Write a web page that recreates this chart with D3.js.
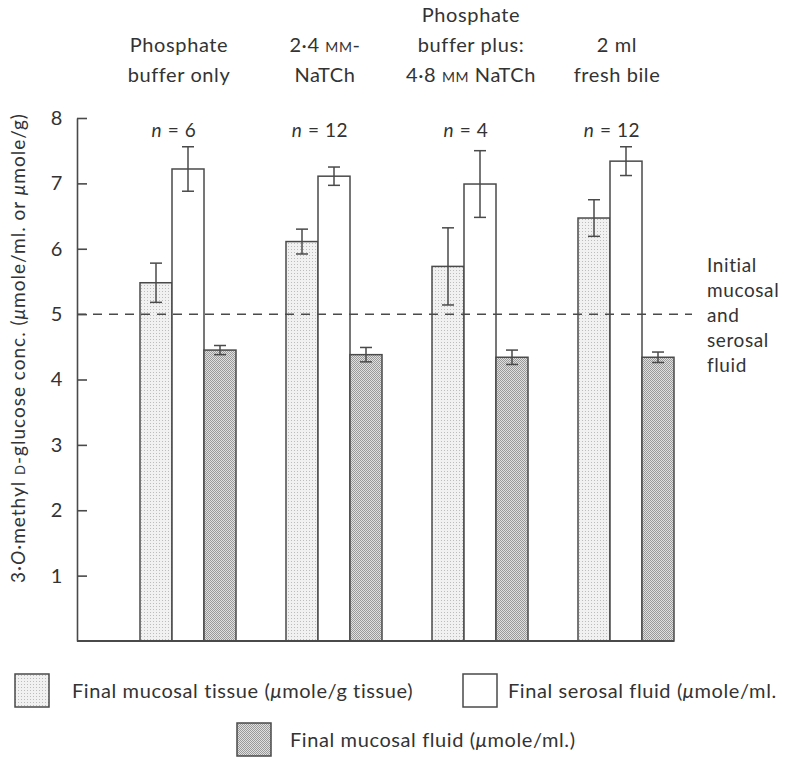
<!DOCTYPE html>
<html>
<head>
<meta charset="utf-8">
<script src="https://cdn.jsdelivr.net/npm/d3@7"></script>
<style>
  body { margin: 0; background: #fff; }
  text { font-family: Lato, "Open Sans", sans-serif; fill: #333; letter-spacing: 0.6px; }
</style>
</head>
<body>
<script>
// données
var groups = ["g1", "g2", "g3", "g4"];
var groupLabels = [
  ["Phosphate", "buffer only"],
  ["2·4 mM-", "NaTCh"],
  ["Phosphate", "buffer plus:", "4·8 mM NaTCh"],
  ["2 ml", "fresh bile"]
];
var nLabels = ["6", "12", "4", "12"];
var series = ["tissue", "serosal", "fluid"];
var tissueMean = [5.48, 6.11, 5.73, 6.47];
var tissueErr = [0.30, 0.19, 0.59, 0.28];
var serosalMean = [7.22, 7.11, 6.99, 7.34];
var serosalErr = [0.34, 0.14, 0.51, 0.22];
var fluidMean = [4.45, 4.38, 4.34, 4.34];
var fluidErr = [0.07, 0.11, 0.11, 0.08];
var initialLevel = 5;
var yTicks = [1, 2, 3, 4, 5, 6, 7, 8];

var width = 785, height = 759;

var svg = d3.select("body").append("svg")
    .attr("width", width)
    .attr("height", height);

// motifs pointillés
var defs = svg.append("defs");
var p1 = defs.append("pattern").attr("id", "lightDots")
    .attr("width", 3).attr("height", 3).attr("patternUnits", "userSpaceOnUse");
p1.append("rect").attr("width", 3).attr("height", 3).attr("fill", "#f1f1f1");
p1.append("rect").attr("width", 1).attr("height", 1).attr("fill", "#bcbcbc");
var p2 = defs.append("pattern").attr("id", "darkDots")
    .attr("width", 2).attr("height", 2).attr("patternUnits", "userSpaceOnUse");
p2.append("rect").attr("width", 2).attr("height", 2).attr("fill", "#e0e0e0");
p2.append("rect").attr("width", 1).attr("height", 1).attr("fill", "#9a9a9a");
p2.append("rect").attr("x", 1).attr("y", 1).attr("width", 1).attr("height", 1).attr("fill", "#9a9a9a");

var fills = { tissue: "url(#lightDots)", serosal: "#fff", fluid: "url(#darkDots)" };

var y = d3.scaleLinear().domain([0, 8]).range([641, 118]);
var xGroup = d3.scalePoint().domain(groups).range([188, 626]);
var xSeries = d3.scaleBand().domain(series).range([-48, 48]);

var rows = [];
groups.forEach(function(g, i) {
  rows.push({ g: g, s: "tissue", v: tissueMean[i], e: tissueErr[i] });
  rows.push({ g: g, s: "serosal", v: serosalMean[i], e: serosalErr[i] });
  rows.push({ g: g, s: "fluid", v: fluidMean[i], e: fluidErr[i] });
});

var axisX = 77;
var lineColor = "#4a4a4a";

// axe y
var yAxis = d3.axisLeft(y)
    .tickValues(yTicks)
    .tickSizeInner(-10)
    .tickSizeOuter(0)
    .tickPadding(14)
    .tickFormat(d3.format("d"));

var yAxisG = svg.append("g")
    .attr("transform", "translate(" + axisX + ",0)")
    .call(yAxis);
yAxisG.selectAll("path, line").attr("stroke", lineColor).attr("stroke-width", 1.6);
yAxisG.selectAll("text")
    .style("font-family", "Lato, sans-serif")
    .style("font-size", "20px")
    .attr("fill", "#333");

// titre de l'axe y
var yTitle = svg.append("text")
    .attr("transform", "translate(25," + 348 + ") rotate(-90)")
    .attr("text-anchor", "middle")
    .style("font-size", "19px")
    .style("letter-spacing", "1px");
yTitle.append("tspan").text("3·");
yTitle.append("tspan").style("font-style", "italic").text("O");
yTitle.append("tspan").text("·methyl ");
yTitle.append("tspan").style("font-size", "13px").text("D");
yTitle.append("tspan").text("-glucose conc. (");
yTitle.append("tspan").style("font-style", "italic").text("μ");
yTitle.append("tspan").text("mole/ml. or ");
yTitle.append("tspan").style("font-style", "italic").text("μ");
yTitle.append("tspan").text("mole/g)");

// barres
var bars = svg.append("g").selectAll("rect")
    .data(rows)
    .enter()
    .append("rect")
    .attr("x", function(d) { return xGroup(d.g) + xSeries(d.s); })
    .attr("y", function(d) { return y(d.v); })
    .attr("width", xSeries.bandwidth())
    .attr("height", function(d) { return y(0) - y(d.v); })
    .attr("fill", function(d) { return fills[d.s]; })
    .attr("stroke", lineColor)
    .attr("stroke-width", 1.5);

// ligne de base
svg.append("line")
    .attr("x1", axisX).attr("x2", xGroup("g4") + 48)
    .attr("y1", y(0)).attr("y2", y(0))
    .attr("stroke", lineColor).attr("stroke-width", 1.8);

// barres d'erreur
var err = svg.append("g").selectAll("g")
    .data(rows)
    .enter()
    .append("g")
    .attr("transform", function(d) {
      return "translate(" + (xGroup(d.g) + xSeries(d.s) + xSeries.bandwidth() / 2) + ",0)";
    });
err.append("line")
    .attr("y1", function(d) { return y(d.v + d.e); })
    .attr("y2", function(d) { return y(d.v - d.e); })
    .attr("stroke", lineColor).attr("stroke-width", 1.5);
err.append("line")
    .attr("x1", -6).attr("x2", 6)
    .attr("y1", function(d) { return y(d.v + d.e); })
    .attr("y2", function(d) { return y(d.v + d.e); })
    .attr("stroke", lineColor).attr("stroke-width", 1.5);
err.append("line")
    .attr("x1", -6).attr("x2", 6)
    .attr("y1", function(d) { return y(d.v - d.e); })
    .attr("y2", function(d) { return y(d.v - d.e); })
    .attr("stroke", lineColor).attr("stroke-width", 1.5);

// ligne pointillée niveau initial
svg.append("line")
    .attr("x1", axisX).attr("x2", 692)
    .attr("y1", y(initialLevel)).attr("y2", y(initialLevel))
    .attr("stroke", lineColor).attr("stroke-width", 1.5)
    .attr("stroke-dasharray", "9,7");

var initText = svg.append("text")
    .attr("x", 707).attr("y", 272)
    .style("font-size", "19px");
["Initial", "mucosal", "and", "serosal", "fluid"].forEach(function(t, i) {
  initText.append("tspan").attr("x", 707).attr("dy", i === 0 ? 0 : 25).text(t);
});

// étiquettes des groupes
groups.forEach(function(g, i) {
  var lines = groupLabels[i];
  var cx = xGroup(g) - 9;
  var t = svg.append("text").attr("text-anchor", "middle").style("font-size", "20px");
  lines.forEach(function(l, j) {
    var yy = 82 - (lines.length - 1 - j) * 30;
    var ts = t.append("tspan").attr("x", cx).attr("y", yy);
    if (l.indexOf("mM") >= 0) {
      var parts = l.split("mM");
      ts.append("tspan").text(parts[0]);
      ts.append("tspan").style("font-size", "14px").text("MM");
      ts.append("tspan").text(parts[1]);
    } else {
      ts.text(l);
    }
  });

  var nt = svg.append("text")
      .attr("x", xGroup(g) - 14)
      .attr("y", 137)
      .attr("text-anchor", "middle")
      .style("font-size", "19px");
  nt.append("tspan").style("font-style", "italic").text("n");
  nt.append("tspan").text(" = " + nLabels[i]);
});

// légende
var legendItems = [
  { s: "tissue", x: 15, y: 674, tx: 72, label: "Final mucosal tissue (", unit: "mole/g tissue)" },
  { s: "serosal", x: 463, y: 674, tx: 508, label: "Final serosal fluid (", unit: "mole/ml." },
  { s: "fluid", x: 237, y: 723, tx: 290, label: "Final mucosal fluid (", unit: "mole/ml.)" }
];
var leg = svg.append("g").selectAll("g")
    .data(legendItems)
    .enter()
    .append("g");
leg.append("rect")
    .attr("x", function(d) { return d.x; })
    .attr("y", function(d) { return d.y; })
    .attr("width", 34).attr("height", 33)
    .attr("fill", function(d) { return fills[d.s]; })
    .attr("stroke", lineColor).attr("stroke-width", 1.5);
var legText = leg.append("text")
    .attr("x", function(d) { return d.tx; })
    .attr("y", function(d) { return d.y + 24; })
    .style("font-size", "20px");
legText.append("tspan").text(function(d) { return d.label; });
legText.append("tspan").style("font-style", "italic").text("μ");
legText.append("tspan").text(function(d) { return d.unit; });
</script>
</body>
</html>
